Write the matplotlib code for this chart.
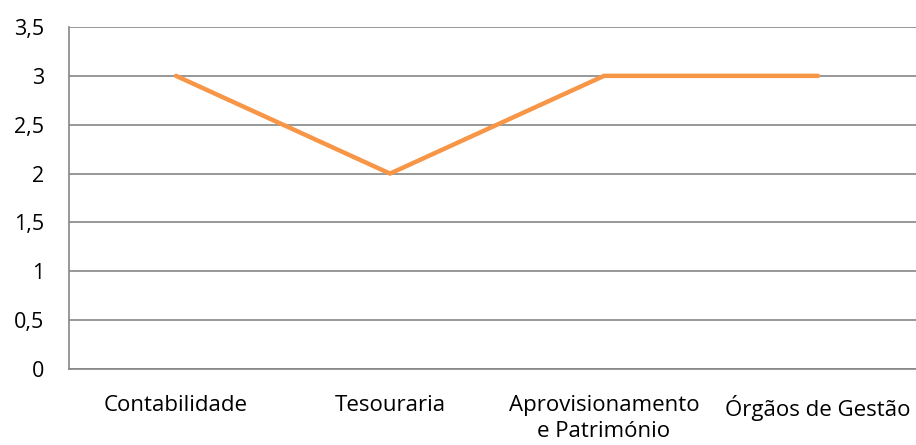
import matplotlib.pyplot as plt
import numpy as np

categories = ["Contabilidade", "Tesouraria", "Aprovisionamento\ne Património", "Órgãos de Gestão"]
values = [3, 2, 3, 3]
y_ticks = [0, 0.5, 1, 1.5, 2, 2.5, 3, 3.5]
y_labels = ["0", "0,5", "1", "1,5", "2", "2,5", "3", "3,5"]

plt.rcParams["font.family"] = ["Open Sans", "DejaVu Sans"]

fig = plt.figure(figsize=(9.16, 4.45), dpi=100)
W, H = 916, 445
left, right, top, bottom = 69, 925, 27, 369
ax = fig.add_axes([left / W, (H - bottom) / H, (right - left) / W, (bottom - top) / H])

x = np.arange(len(categories))
ax.plot(x, values, color="#F79646", lw=3.2, solid_capstyle="round", zorder=3)

ax.set_xlim(-0.5, len(categories) - 0.5)
ax.set_ylim(0, 3.5)
ax.set_yticks(y_ticks)
ax.set_yticklabels(y_labels, fontsize=15.5)
ax.set_xticks(x)
ax.set_xticklabels(categories, fontsize=16, linespacing=1.3)
ax.tick_params(length=0)
ax.tick_params(axis="y", pad=18)
ax.tick_params(axis="x", pad=19)

ax.grid(axis="y", color="#868686", lw=1.2)
ax.set_axisbelow(True)
for s in ["top", "right"]:
    ax.spines[s].set_visible(False)
for s in ["left", "bottom"]:
    ax.spines[s].set_color("#868686")
    ax.spines[s].set_linewidth(1.2)

fig.savefig("out.png", dpi=100)
